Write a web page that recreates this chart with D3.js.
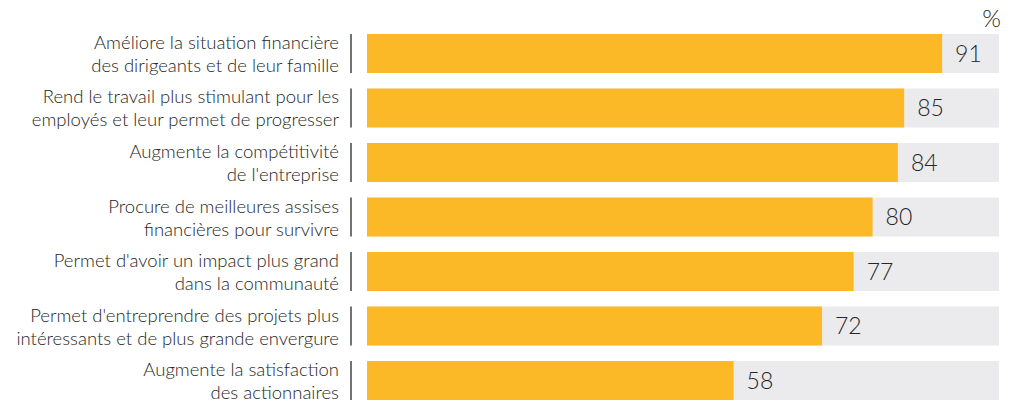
<!DOCTYPE html>
<html>
<head>
<meta charset="utf-8">
<script src="https://cdn.jsdelivr.net/npm/d3@7"></script>
<style>
  html, body { margin: 0; padding: 0; background: #fff; }
  svg { display: block; }
  text { font-family: Lato, "Open Sans", sans-serif; font-weight: 300; fill: #262626; }
</style>
</head>
<body>
<svg id="chart" width="1016" height="405"></svg>
<script>
// Survey answers, each split over two lines
const labelLine1 = [
  "Améliore la situation financière",
  "Rend le travail plus stimulant pour les",
  "Augmente la compétitivité",
  "Procure de meilleures assises",
  "Permet d'avoir un impact plus grand",
  "Permet d'entreprendre des projets plus",
  "Augmente la satisfaction"
];
const labelLine2 = [
  "des dirigeants et de leur famille",
  "employés et leur permet de progresser",
  "de l'entreprise",
  "financières pour survivre",
  "dans la communauté",
  "intéressants et de plus grande envergure",
  "des actionnaires"
];
const values = [91, 85, 84, 80, 77, 72, 58];
const unitLabel = "%";

const svg = d3.select("#chart");
const ids = d3.range(values.length);

const x = d3.scaleLinear().domain([0, 100]).range([367, 999]);
const y = d3.scaleBand().domain(ids).range([34, 400]).paddingInner(0.285).paddingOuter(0);

// grey track behind each bar (full 100%)
svg.append("g").selectAll("rect").data(ids).join("rect")
  .attr("x", x(0)).attr("y", i => y(i))
  .attr("width", x(100) - x(0)).attr("height", y.bandwidth())
  .attr("fill", "#ebebed");

// value bars
svg.append("g").selectAll("rect").data(ids).join("rect")
  .attr("x", x(0)).attr("y", i => y(i))
  .attr("width", i => x(values[i]) - x(0)).attr("height", y.bandwidth())
  .attr("fill", "#fbb827");

// value labels
svg.append("g").selectAll("text").data(ids).join("text")
  .attr("x", i => x(values[i]) + 13)
  .attr("y", i => y(i) + y.bandwidth() / 2)
  .attr("dy", "0.36em")
  .attr("font-size", 23)
  .text(i => values[i]);

// separator ticks between labels and bars
svg.append("g").selectAll("line").data(ids).join("line")
  .attr("x1", 351).attr("x2", 351)
  .attr("y1", i => y(i)).attr("y2", i => y(i) + y.bandwidth())
  .attr("stroke", "#444").attr("stroke-width", 1.5);

// category labels
const lab = svg.append("g").selectAll("text").data(ids).join("text")
  .attr("text-anchor", "end")
  .attr("font-size", 18.5);
lab.append("tspan")
  .attr("x", 339).attr("y", i => y(i) + y.bandwidth() / 2 - 4.5)
  .text(i => labelLine1[i]);
lab.append("tspan")
  .attr("x", 339).attr("y", i => y(i) + y.bandwidth() / 2 + 18.5)
  .text(i => labelLine2[i]);

svg.append("text")
  .attr("x", 1001).attr("y", 27)
  .attr("text-anchor", "end")
  .attr("font-size", 24)
  .text(unitLabel);
</script>
</body>
</html>
